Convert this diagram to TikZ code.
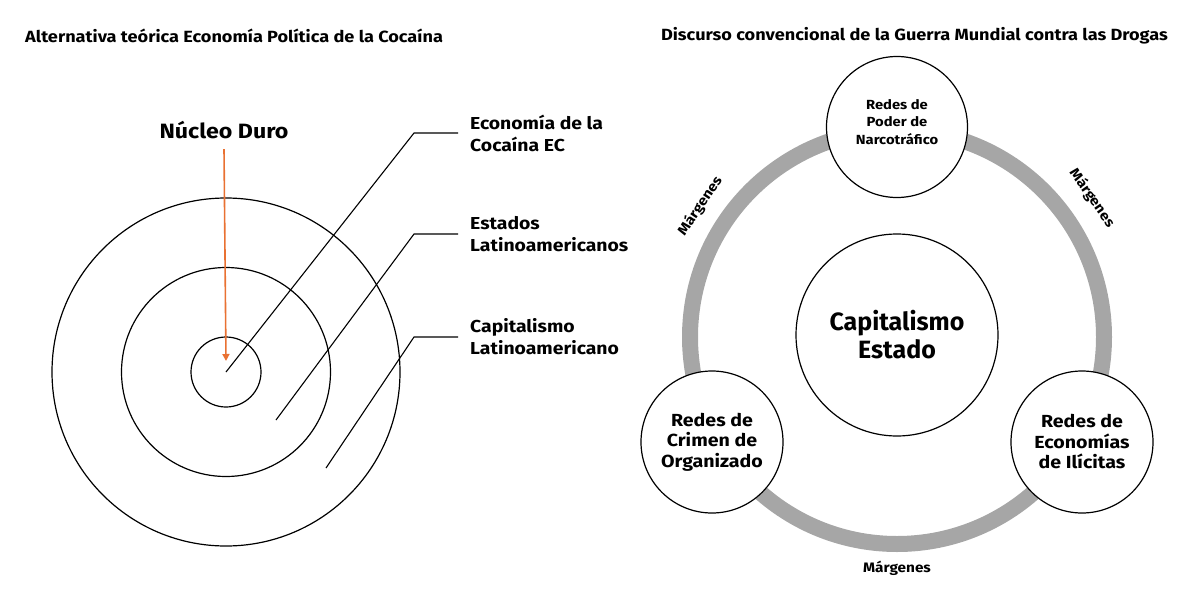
\documentclass[tikz,border=0pt]{standalone}
\usepackage{fontspec}
\setmainfont{Fira Sans}
\newfontfamily\wide[FakeStretch=1.12]{Fira Sans}
\usetikzlibrary{arrows.meta}
\definecolor{orangeline}{RGB}{233,113,50}
\definecolor{ringgray}{RGB}{166,166,166}
\tikzset{
  ring/.style={circle, draw, line width=1.2pt, inner sep=0pt, fill=white},
  leader/.style={line width=1.1pt},
  lbl/.style={font=\wide\fontsize{17.3}{22}\selectfont\bfseries, align=left, anchor=west, inner sep=0pt},
  ctext/.style={font=\wide\fontsize{17.5}{20.5}\selectfont\bfseries, align=center},
  marg/.style={font=\wide\fontsize{13.7}{15}\selectfont\bfseries, inner sep=0pt},
  ttl/.style={font=\wide\fontsize{16.2}{18}\selectfont\bfseries, inner sep=0pt}
}
\begin{document}
\begin{tikzpicture}[x=1pt,y=-1pt]
\useasboundingbox (0,0) rectangle (1200,600);
% titles
\node[ttl, anchor=west] (t1) at (25,36) {Alternativa teórica Economía Política de la Cocaína};
\node[ttl, anchor=east] (t2) at (1168,36) {Discurso convencional de la Guerra Mundial contra las Drogas};
% left: concentric circles
\node[ring, fill=none, minimum size=348pt] (outer) at (226,372) {};
\node[ring, fill=none, minimum size=209pt] (middle) at (226,372) {};
\node[ring, fill=none, minimum size=70pt] (core) at (226,372) {};
% Nucleo duro
\node[font=\wide\fontsize{20.7}{24}\selectfont\bfseries, inner sep=0pt] (nd) at (224,130) {Núcleo Duro};
\draw[orangeline, line width=1.6pt, -{Triangle[length=7pt,width=7pt]}] ([yshift=-10pt]nd.south) -- ([yshift=11pt]core.center);
% labels
\node[lbl] (l1) at (470,133) {Economía de la\\Cocaína EC};
\node[lbl] (l2) at (470,234) {Estados\\Latinoamericanos};
\node[lbl] (l3) at (470,337) {Capitalismo\\Latinoamericano};
\coordinate (s1) at (core.center);
\coordinate (s2) at (276,420);
\coordinate (s3) at (326,468);
\draw[leader] (s1) -- (414,133) -- ([xshift=-12pt]l1.west);
\draw[leader] (s2) -- (414,234) -- ([xshift=-12pt]l2.west);
\draw[leader] (s3) -- (414,337) -- ([xshift=-12pt]l3.west);
% right: ring
\draw[ringgray, line width=16pt] (897,337) circle (207);
\node[ring, minimum size=202pt] (cap) at (897,335) {};
\node[font=\fontsize{25}{28}\selectfont\bfseries, align=center] at (cap.center) {Capitalismo\\Estado};
\node[ring, minimum size=141pt] (top) at (897,127) {};
\node[font=\wide\fontsize{13.2}{17.3}\selectfont\bfseries, align=center] at ([yshift=5pt]top.center) {Redes de\\Poder de\\Narcotráfico};
\node[ring, minimum size=142pt] (left) at (712,442) {};
\node[ctext] at (left.center) {Redes de\\Crimen de\\Organizado};
\node[ring, minimum size=142pt] (right) at (1082,442) {};
\node[ctext] at (right.center) {Redes de\\Economías\\de Ilícitas};
% margins
\node[marg, rotate=56] (m1) at (700,206) {Márgenes};
\node[marg, rotate=-55] (m2) at (1092,198) {Márgenes};
\node[marg] (m3) at (897,568) {Márgenes};
\end{tikzpicture}
\end{document}
